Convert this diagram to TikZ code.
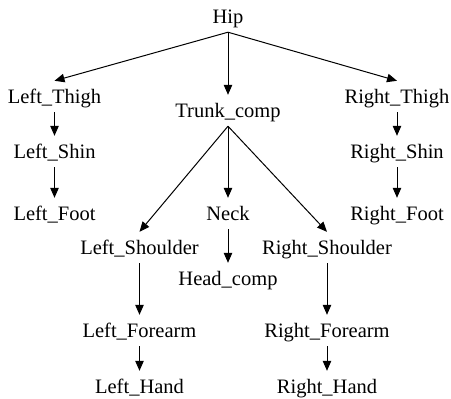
\documentclass[tikz,border=0pt]{standalone}
\usepackage{fontspec}
\setmainfont{Liberation Serif}
\newfontfamily\diagfont{Liberation Serif}
\usetikzlibrary{arrows.meta}
\begin{document}
\begin{tikzpicture}[x=1pt,y=1pt,
  lbl/.style={inner sep=0pt, text height=22pt, text depth=9pt, anchor=base,
    font=\diagfont\fontsize{20.5}{24}\selectfont},
  conn/.style={line width=1pt, -{Triangle[length=10pt,width=8.5pt]}}]
\useasboundingbox (0,0) rectangle (451,-399);
\node[lbl] (hip) at (228,-23) {Hip};
\node[lbl] (lthigh) at (54.5,-103) {Left\_Thigh};
\node[lbl] (trunk) at (228,-117) {Trunk\_comp};
\node[lbl] (rthigh) at (397,-103) {Right\_Thigh};
\node[lbl] (lshin) at (54.5,-158) {Left\_Shin};
\node[lbl] (rshin) at (397,-158) {Right\_Shin};
\node[lbl] (lfoot) at (54.5,-220) {Left\_Foot};
\node[lbl] (rfoot) at (397,-220) {Right\_Foot};
\node[lbl] (neck) at (228,-220) {Neck};
\node[lbl] (lshoulder) at (139.5,-254) {Left\_Shoulder};
\node[lbl] (rshoulder) at (327,-254) {Right\_Shoulder};
\node[lbl] (head) at (228,-285) {Head\_comp};
\node[lbl] (lforearm) at (139.5,-337) {Left\_Forearm};
\node[lbl] (rforearm) at (327,-337) {Right\_Forearm};
\node[lbl] (lhand) at (139.5,-393) {Left\_Hand};
\node[lbl] (rhand) at (327,-393) {Right\_Hand};
\draw[conn] (hip.south) -- (lthigh.north);
\draw[conn] (hip.south) -- (trunk.north);
\draw[conn] (hip.south) -- (rthigh.north);
\draw[conn] (lthigh.south) -- (lshin.north);
\draw[conn] (lshin.south) -- (lfoot.north);
\draw[conn] (rthigh.south) -- (rshin.north);
\draw[conn] (rshin.south) -- (rfoot.north);
\draw[conn] (trunk.south) -- (lshoulder.north);
\draw[conn] (trunk.south) -- (neck.north);
\draw[conn] (trunk.south) -- (rshoulder.north);
\draw[conn] (neck.south) -- (head.north);
\draw[conn] (lshoulder.south) -- (lforearm.north);
\draw[conn] (rshoulder.south) -- (rforearm.north);
\draw[conn] (lforearm.south) -- (lhand.north);
\draw[conn] (rforearm.south) -- (rhand.north);
\end{tikzpicture}
\end{document}
